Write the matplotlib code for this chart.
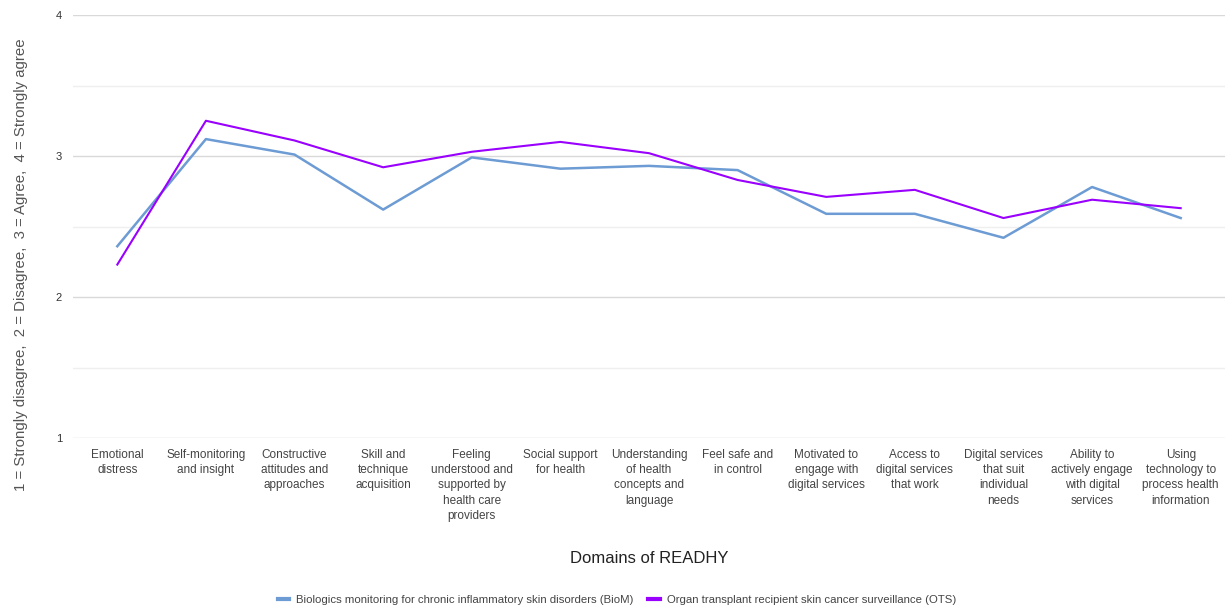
import numpy as np
import matplotlib.pyplot as plt

# domains of READHY (x categories)
domains = [
    "Emotional\ndistress",
    "Self-monitoring\nand insight",
    "Constructive\nattitudes and\napproaches",
    "Skill and\ntechnique\nacquisition",
    "Feeling\nunderstood and\nsupported by\nhealth care\nproviders",
    "Social support\nfor health",
    "Understanding\nof health\nconcepts and\nlanguage",
    "Feel safe and\nin control",
    "Motivated to\nengage with\ndigital services",
    "Access to\ndigital services\nthat work",
    "Digital services\nthat suit\nindividual\nneeds",
    "Ability to\nactively engage\nwith digital\nservices",
    "Using\ntechnology to\nprocess health\ninformation",
]

biom = [2.36, 3.12, 3.01, 2.62, 2.99, 2.91, 2.93, 2.90, 2.59, 2.59, 2.42, 2.78, 2.56]
ots = [2.23, 3.25, 3.11, 2.92, 3.03, 3.10, 3.02, 2.83, 2.71, 2.76, 2.56, 2.69, 2.63]

biom_label = "Biologics monitoring for chronic inflammatory skin disorders (BioM)"
ots_label = "Organ transplant recipient skin cancer surveillance (OTS)"

plt.rcParams['font.family'] = ['Liberation Sans', 'DejaVu Sans']

fig = plt.figure(figsize=(12.25, 6.1), dpi=100)
ax = fig.add_axes([73/1225, 1 - 438/610, 1152/1225, 423/610])

x = np.arange(len(domains))
ax.plot(x, biom, color='#6d9bd3', lw=1.8, label=biom_label)
ax.plot(x, ots, color='#9900ff', lw=1.5, label=ots_label)

ax.set_xlim(-0.5, len(domains) - 0.5)
ax.set_ylim(1, 4)
ax.set_yticks([1, 2, 3, 4])
ax.set_yticks([1.5, 2.5, 3.5], minor=True)
ax.grid(axis='y', which='major', color='#d9d9d9', lw=1)
ax.grid(axis='y', which='minor', color='#efefef', lw=1)
ax.set_axisbelow(True)
ax.tick_params(axis='y', which='both', length=0, pad=8, labelsize=8, labelcolor='#333333')
ax.tick_params(axis='x', length=0, pad=8, labelsize=8.5, labelcolor='#444444')
ax.set_xticks(x)
ax.set_xticklabels(domains, va='top', ha='center', linespacing=1.35)
for s in ax.spines.values():
    s.set_visible(False)

ax.set_xlabel("Domains of READHY", fontsize=12, labelpad=21, color='#222222')
fig.text(21/1225, 1 - 265/610, "1 = Strongly disagree,  2 = Disagree,  3 = Agree,  4 = Strongly agree",
         rotation=90, ha='center', va='center', fontsize=10.8, color='#555555')

leg = fig.legend(loc='center', bbox_to_anchor=(617/1225, 1 - 600/610), ncol=2, frameon=False,
                 fontsize=8.2, handlelength=1.0, handletextpad=0.6, columnspacing=1.3,
                 labelcolor='#444444')
for h in leg.get_lines():
    h.set_linewidth(3)

fig.savefig('out.png', dpi=100)
